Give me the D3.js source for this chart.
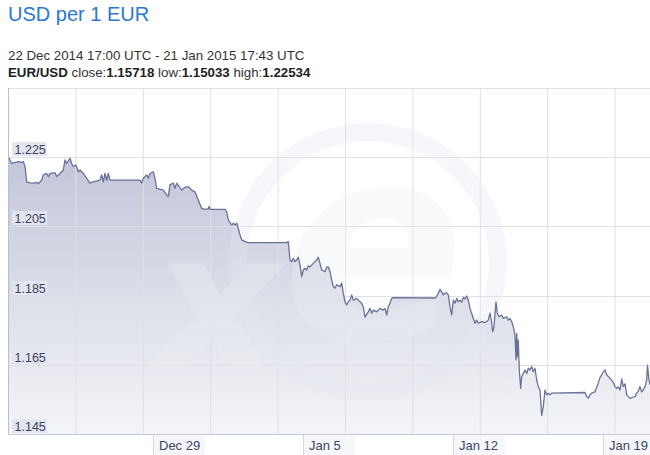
<!DOCTYPE html>
<html><head><meta charset="utf-8">
<script src="https://cdn.jsdelivr.net/npm/d3@7"></script>
<style>
body{margin:0;background:#fff;}
svg{display:block;font-family:"Liberation Sans",Arial,sans-serif;}
</style>
</head><body>
<svg id="c" width="650" height="455"></svg>
<script>
// ---------- data ----------
const titleText = "USD per 1 EUR";
const rangeText = "22 Dec 2014 17:00 UTC - 21 Jan 2015 17:43 UTC";
const pairText = "EUR/USD";
const statLabels = [" close:", " low:", " high:"];
const statValues = ["1.15718", "1.15033", "1.22534"];

const startTime = Date.UTC(2014, 11, 22, 5, 37);   // left edge of the plot
const spanDays = 29.957;                            // visible span
const dayOffsets = [0.000,0.173,0.481,0.639,0.714,0.793,0.873,1.027,1.180,1.339,1.414,1.572,1.647,1.806,1.880,1.960,2.193,2.272,2.426,2.580,2.660,2.739,2.893,2.972,3.047,3.173,3.280,3.360,3.513,3.672,3.826,3.980,4.293,4.372,4.447,4.526,4.605,4.680,4.759,6.159,6.238,6.313,6.472,6.546,6.626,6.780,6.859,6.938,7.246,7.405,7.480,7.559,7.713,7.792,7.872,8.105,8.259,8.413,8.571,8.725,8.879,9.038,9.113,9.332,9.393,9.425,10.125,10.205,10.279,10.438,10.513,10.592,10.671,10.746,10.825,10.905,11.059,11.212,13.004,13.079,13.158,13.237,13.312,13.391,13.471,13.545,13.625,13.704,13.779,13.858,13.937,14.012,14.091,14.245,14.404,14.479,14.558,14.637,14.791,14.871,14.945,15.025,15.104,15.179,15.258,15.337,15.491,15.570,15.645,15.724,15.804,15.878,15.958,16.037,16.112,16.270,16.424,16.503,16.578,16.657,16.811,16.891,16.970,17.045,17.203,17.357,17.511,17.591,17.670,17.745,17.824,17.903,17.978,19.924,20.003,20.078,20.157,20.236,20.311,20.390,20.470,20.544,20.624,20.703,20.778,20.857,20.936,21.011,21.090,21.169,21.244,21.324,21.403,21.478,21.557,21.636,21.711,21.790,21.869,21.944,22.103,22.257,22.336,22.411,22.490,22.551,22.616,22.677,22.770,22.831,22.911,23.036,23.111,23.270,23.344,23.424,23.503,23.578,23.657,23.704,23.736,23.764,23.811,23.858,23.923,23.970,24.044,24.124,24.203,24.278,24.357,24.436,24.511,24.590,24.670,24.744,24.824,24.903,24.978,25.057,25.136,25.211,25.290,25.369,26.923,27.003,27.078,27.157,27.236,27.390,27.544,27.624,27.703,27.778,27.857,27.936,28.011,28.091,28.244,28.324,28.403,28.478,28.557,28.636,28.711,28.790,28.870,29.024,29.178,29.257,29.336,29.411,29.490,29.570,29.724,29.803,29.840,29.896,29.957];
const rates = [1.2253,1.2232,1.2237,1.2235,1.2237,1.2223,1.2179,1.2176,1.2175,1.2177,1.2173,1.2184,1.2199,1.2203,1.2194,1.2203,1.2205,1.2194,1.2203,1.2213,1.2242,1.2232,1.2247,1.2232,1.2223,1.2227,1.2208,1.2213,1.2203,1.2189,1.2175,1.2179,1.2184,1.2199,1.2179,1.2203,1.2184,1.2203,1.2184,1.2184,1.2175,1.2189,1.2199,1.2189,1.2203,1.2208,1.2189,1.2160,1.2155,1.2141,1.2136,1.2170,1.2175,1.2160,1.2175,1.2155,1.2163,1.2165,1.2155,1.2150,1.2126,1.2102,1.2100,1.2100,1.2108,1.2099,1.2099,1.2092,1.2069,1.2054,1.2059,1.2054,1.2059,1.2044,1.2025,1.2011,1.2006,1.2003,1.2003,1.2006,1.1953,1.1948,1.1958,1.1948,1.1953,1.1961,1.1938,1.1905,1.1924,1.1929,1.1924,1.1936,1.1933,1.1943,1.1953,1.1961,1.1943,1.1924,1.1919,1.1932,1.1933,1.1919,1.1895,1.1876,1.1871,1.1881,1.1876,1.1886,1.1857,1.1832,1.1823,1.1832,1.1837,1.1852,1.1837,1.1842,1.1832,1.1828,1.1818,1.1788,1.1803,1.1813,1.1799,1.1808,1.1803,1.1813,1.1808,1.1813,1.1794,1.1818,1.1828,1.1842,1.1844,1.1843,1.1847,1.1857,1.1868,1.1861,1.1852,1.1857,1.1858,1.1852,1.1818,1.1794,1.1837,1.1828,1.1842,1.1832,1.1837,1.1831,1.1845,1.1840,1.1849,1.1837,1.1813,1.1799,1.1784,1.1770,1.1779,1.1770,1.1775,1.1772,1.1775,1.1779,1.1799,1.1779,1.1746,1.1760,1.1832,1.1799,1.1789,1.1794,1.1784,1.1789,1.1779,1.1784,1.1775,1.1760,1.1736,1.1664,1.1741,1.1673,1.1722,1.1635,1.1582,1.1616,1.1625,1.1635,1.1625,1.1640,1.1635,1.1645,1.1630,1.1640,1.1606,1.1587,1.1577,1.15033,1.1529,1.1577,1.1563,1.1568,1.1563,1.1568,1.1570,1.1558,1.1553,1.1563,1.1568,1.1572,1.1597,1.1613,1.1621,1.1630,1.1635,1.1621,1.1616,1.1611,1.1599,1.1587,1.1582,1.1586,1.1577,1.1609,1.1587,1.1595,1.1563,1.1553,1.1557,1.1558,1.1568,1.1574,1.1587,1.1571,1.1586,1.1606,1.1649,1.1612,1.1592];

const yDomain = [1.145, 1.245];
const yTickValues = [1.225, 1.205, 1.185, 1.165, 1.145];
const yTickLabels = ["1.225", "1.205", "1.185", "1.165", "1.145"];
const xTickDates = ["2014-12-29", "2015-01-05", "2015-01-12", "2015-01-19"];
const xTickLabels = ["Dec 29", "Jan 5", "Jan 12", "Jan 19"];
const gridColumns = 10;

// ---------- layout ----------
const plot = {left: 8, right: 650, top: 88, bottom: 434};
const colWidth = 67.4;
const DAY = 86400000;

const svg = d3.select("#c");

const x = d3.scaleUtc()
  .domain([new Date(startTime), new Date(startTime + spanDays * DAY)])
  .range([plot.left, plot.right]);
const y = d3.scaleLinear().domain(yDomain).range([plot.bottom, plot.top]);

const data = dayOffsets.map((d, i) => ({t: new Date(startTime + d * DAY), v: rates[i]}));

// ---------- header ----------
svg.append("text").attr("x", 8).attr("y", 21)
  .attr("font-size", 20).attr("fill", "#2a78d4").text(titleText);
svg.append("text").attr("x", 8).attr("y", 60)
  .attr("font-size", 13.3).attr("fill", "#333").text(rangeText);
const stat = svg.append("text").attr("x", 8).attr("y", 77)
  .attr("font-size", 13.3).attr("fill", "#333");
stat.append("tspan").attr("font-weight", "bold").attr("fill", "#222").text(pairText);
statLabels.forEach((l, i) => {
  stat.append("tspan").text(l);
  stat.append("tspan").attr("font-weight", "bold").attr("fill", "#222").text(statValues[i]);
});

// ---------- defs ----------
const defs = svg.append("defs");
const grad = defs.append("linearGradient").attr("id", "fillGrad")
  .attr("gradientUnits", "userSpaceOnUse")
  .attr("x1", 0).attr("x2", 0).attr("y1", y(1.225)).attr("y2", plot.bottom);
grad.append("stop").attr("offset", 0).attr("stop-color", "#c3c6d9");
grad.append("stop").attr("offset", 1).attr("stop-color", "#f4f5f8");
defs.append("clipPath").attr("id", "plotClip").append("rect")
  .attr("x", plot.left).attr("y", plot.top)
  .attr("width", plot.right - plot.left).attr("height", plot.bottom - plot.top);

// ---------- area ----------
const area = d3.area().x(d => x(d.t)).y0(y(yDomain[0])).y1(d => y(d.v));
const line = d3.line().x(d => x(d.t)).y(d => y(d.v));

const pg = svg.append("g").attr("clip-path", "url(#plotClip)");
pg.append("path").datum(data).attr("d", area).attr("fill", "url(#fillGrad)");

// ---------- grid ----------
const gridX = d3.scaleLinear().domain([0, gridColumns]).range([plot.left, plot.left + colWidth * gridColumns]);
pg.append("g").selectAll("line").data(d3.range(1, gridColumns)).join("line")
  .attr("x1", d => gridX(d) + 0.5).attr("x2", d => gridX(d) + 0.5)
  .attr("y1", plot.top).attr("y2", plot.bottom)
  .attr("stroke", "#e0e0e4").attr("stroke-width", 1);
pg.append("g").selectAll("line").data(yTickValues.concat([yDomain[1]])).join("line")
  .attr("x1", plot.left).attr("x2", plot.right)
  .attr("y1", d => Math.round(y(d)) + 0.5).attr("y2", d => Math.round(y(d)) + 0.5)
  .attr("stroke", "#e0e0e4").attr("stroke-width", 1);

// ---------- watermark ----------
const wm = pg.append("g").attr("opacity", 0.32);
wm.append("circle").attr("cx", 368).attr("cy", 262).attr("r", 130)
  .attr("fill", "none").attr("stroke", "#e6e8f0").attr("stroke-width", 18);
wm.append("text").attr("x", 152).attr("y", 372).attr("font-size", 200)
  .attr("font-weight", "bold").attr("font-style", "italic")
  .attr("font-family", "DejaVu Sans").attr("fill", "#eef0f5").text("x");
wm.append("text").attr("x", 282).attr("y", 338).attr("font-size", 270)
  .attr("font-weight", "bold").attr("font-style", "italic")
  .attr("font-family", "DejaVu Sans").attr("fill", "#eef0f5").text("e");

// ---------- line ----------
pg.append("path").datum(data).attr("d", line)
  .attr("fill", "none").attr("stroke", "#6a7199").attr("stroke-width", 1.3)
  .attr("stroke-linejoin", "round");

// borders
svg.append("line").attr("x1", plot.left + 0.5).attr("x2", plot.left + 0.5)
  .attr("y1", plot.top).attr("y2", plot.bottom).attr("stroke", "#b9bdd0");
svg.append("line").attr("x1", plot.left).attr("x2", plot.right)
  .attr("y1", plot.bottom + 0.5).attr("y2", plot.bottom + 0.5).attr("stroke", "#c4c7d6");

// ---------- y labels ----------
const yl = svg.append("g").selectAll("g").data(yTickValues).join("g")
  .attr("transform", d => `translate(12,${Math.round(y(d))})`);
yl.append("rect").attr("x", 0).attr("y", -15).attr("width", 35).attr("height", 14)
  .attr("fill", "#e3e5ef");
yl.append("text").attr("x", 2.5).attr("y", -3).attr("font-size", 12.5)
  .attr("fill", "#3c4263").text((d, i) => yTickLabels[i]);

// ---------- x labels ----------
const xl = svg.append("g").selectAll("g").data(xTickDates).join("g")
  .attr("transform", d => `translate(${Math.round(x(new Date(d + "T00:00:00Z")))},${plot.bottom + 1})`);
xl.append("rect").attr("x", 0).attr("y", 0).attr("width", 52).attr("height", 20)
  .attr("fill", "#f6f7fa");
xl.append("line").attr("x1", 0.5).attr("x2", 0.5).attr("y1", 0).attr("y2", 20)
  .attr("stroke", "#d3d6e2");
xl.append("text").attr("x", 6).attr("y", 15).attr("font-size", 13)
  .attr("fill", "#3d4466").text((d, i) => xTickLabels[i]);
</script>
</body></html>
